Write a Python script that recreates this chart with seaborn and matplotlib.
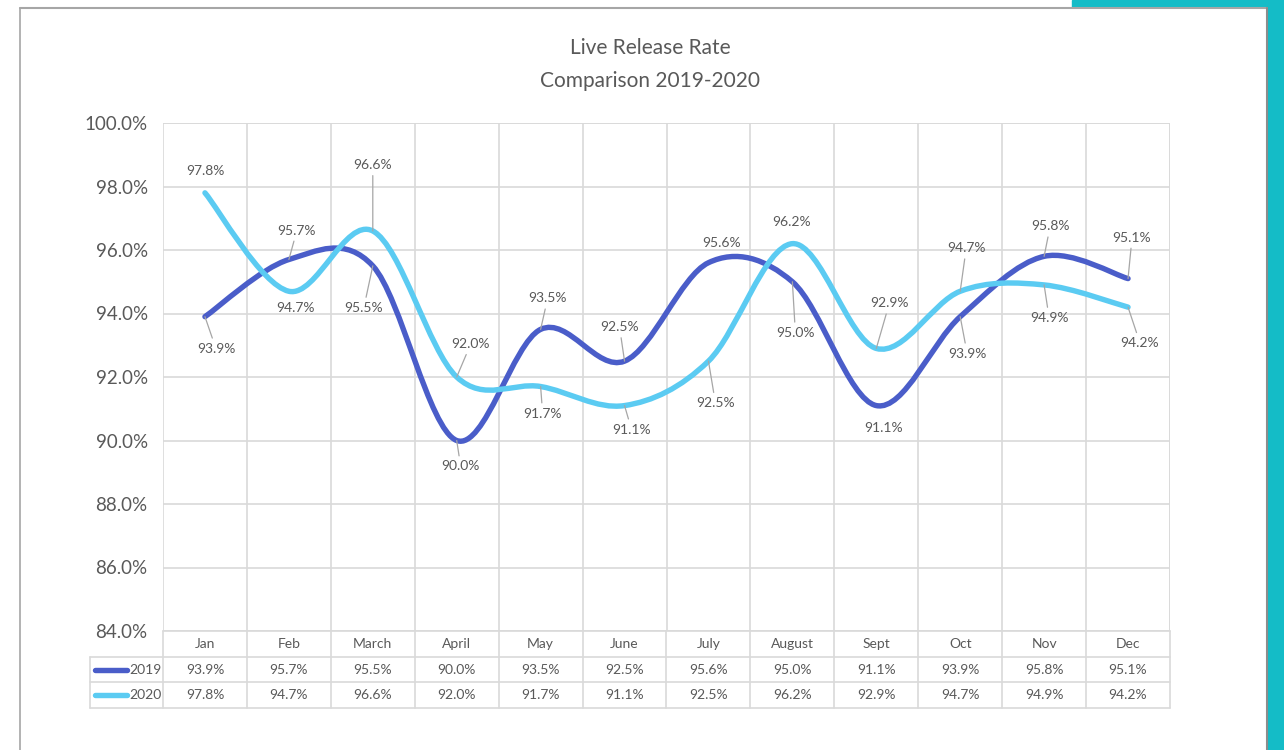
import numpy as np
import matplotlib.pyplot as plt
import seaborn as sns
from matplotlib.path import Path
from matplotlib.patches import PathPatch, Rectangle
from matplotlib.lines import Line2D

# data
months = ['Jan', 'Feb', 'March', 'April', 'May', 'June', 'July', 'August',
          'Sept', 'Oct', 'Nov', 'Dec']
rate_2019 = [93.9, 95.7, 95.5, 90.0, 93.5, 92.5, 95.6, 95.0, 91.1, 93.9, 95.8, 95.1]
rate_2020 = [97.8, 94.7, 96.6, 92.0, 91.7, 91.1, 92.5, 96.2, 92.9, 94.7, 94.9, 94.2]

# label offsets in pixels (dx, dy up positive)
off_2019 = [(11, -32), (8, 29), (-9, -42), (4, -26), (7, 31), (-5, 34),
            (13, 20), (3, -51), (7, -22), (7, -37), (6, 30), (4, 41)]
off_2020 = [(0, 22), (7, -17), (0, 66), (14, 33), (2, -27), (7, -24),
            (7, -42), (-1, 22), (13, 45), (6, 43), (5, -33), (12, -36)]

c19 = '#4A5DC9'
c20 = '#5BCBF2'
grey_txt = '#595959'
grid_c = '#D9D9D9'

sns.set_theme(style='white')
plt.rcParams['font.family'] = ['Lato', 'DejaVu Sans']

fig = plt.figure(figsize=(12.84, 7.5), dpi=100)
W, H = 1284, 750


def fbox(x0, y0, x1, y1):
    # pixel box (top-left origin) -> figure fraction
    return [x0 / W, 1 - y1 / H, (x1 - x0) / W, (y1 - y0) / H]


# frame decoration
fig.patches.append(Rectangle((1072 / W, 1 - 7 / H), (W - 1072) / W, 7 / H,
                             transform=fig.transFigure, color='#14BCC7', zorder=0))
fig.patches.append(Rectangle((1268 / W, 0), 16 / W, 1,
                             transform=fig.transFigure, color='#14BCC7', zorder=0))
fig.lines.append(Line2D([20 / W, 1267 / W], [1 - 8 / H, 1 - 8 / H],
                        transform=fig.transFigure, color='#A6A6A6', lw=1.5))
fig.lines.append(Line2D([20 / W, 20 / W], [0, 1 - 8 / H],
                        transform=fig.transFigure, color='#A6A6A6', lw=1.2))
fig.lines.append(Line2D([1267 / W, 1267 / W], [0, 1 - 8 / H],
                        transform=fig.transFigure, color='#8C8C8C', lw=1.5))

fig.text(650 / W, 1 - 48 / H, 'Live Release Rate', ha='center', va='center',
         fontsize=15, color=grey_txt)
fig.text(650 / W, 1 - 81 / H, 'Comparison 2019-2020', ha='center', va='center',
         fontsize=15, color=grey_txt)

ax = fig.add_axes(fbox(163, 123, 1170, 631))
x = np.arange(len(months))
ax.set_xlim(-0.5, 11.5)
ax.set_ylim(84, 100)
ax.set_yticks(np.arange(84, 100.1, 2))
ax.set_yticklabels([f'{v:.1f}%' for v in np.arange(84, 100.1, 2)],
                   fontsize=13.5, color=grey_txt)
ax.set_xticks([])
ax.tick_params(axis='y', length=0, pad=11)
ax.set_xticks(np.arange(-0.5, 12, 1), minor=True)
ax.grid(True, which='minor', axis='x', color=grid_c, lw=1.2)
ax.grid(True, which='major', axis='y', color=grid_c, lw=1.2)
for s in ax.spines.values():
    s.set_visible(False)
ax.axvline(11.5, color=grid_c, lw=1.2)
ax.axhline(100, color=grid_c, lw=1.2)


def smooth_path(xs, ys):
    pts = np.column_stack([xs, ys]).astype(float)
    n = len(pts)
    verts = [pts[0]]
    codes = [Path.MOVETO]
    for i in range(n - 1):
        p0 = pts[max(i - 1, 0)]
        p1 = pts[i]
        p2 = pts[i + 1]
        p3 = pts[min(i + 2, n - 1)]
        verts += [p1 + (p2 - p0) / 6, p2 - (p3 - p1) / 6, p2]
        codes += [Path.CURVE4] * 3
    return Path(verts, codes)


for vals, col in [(rate_2019, c19), (rate_2020, c20)]:
    ax.add_patch(PathPatch(smooth_path(x, vals), fill=False, edgecolor=col,
                           lw=3.9, capstyle='round', joinstyle='round', zorder=3))

for vals, offs in [(rate_2019, off_2019), (rate_2020, off_2020)]:
    for i, (v, (dx, dy)) in enumerate(zip(vals, offs)):
        if np.hypot(dx, dy) > 24:
            ap = dict(arrowstyle='-', color='#A6A6A6', lw=0.9, shrinkA=1, shrinkB=0)
        else:
            ap = None
        ax.annotate(f'{v:.1f}%', (i, v), xytext=(dx, dy), textcoords='offset pixels',
                    ha='center', va='center', fontsize=10, color=grey_txt,
                    arrowprops=ap, zorder=4)

# data table under the plot
tax = fig.add_axes(fbox(90, 631, 1170, 708))
tax.set_xlim(-0.5 - 73 / 83.92, 11.5)
tax.set_ylim(3, 0)
tax.axis('off')
left = -0.5 - 73 / 83.92
for r in [0, 1, 2, 3]:
    x0 = -0.5 if r == 0 else left
    tax.plot([x0, 11.5], [r, r], color=grid_c, lw=1.2, clip_on=False)
for b in np.arange(-0.5, 12, 1):
    tax.plot([b, b], [0, 3], color=grid_c, lw=1.2, clip_on=False)
tax.plot([left, left], [1, 3], color=grid_c, lw=1.2, clip_on=False)

for i, m in enumerate(months):
    tax.text(i, 0.5, m, ha='center', va='center', fontsize=10, color=grey_txt)
    tax.text(i, 1.5, f'{rate_2019[i]:.1f}%', ha='center', va='center',
             fontsize=10, color=grey_txt)
    tax.text(i, 2.5, f'{rate_2020[i]:.1f}%', ha='center', va='center',
             fontsize=10, color=grey_txt)

for r, (lab, col) in enumerate([('2019', c19), ('2020', c20)]):
    tax.plot([left + 0.06, left + 0.44], [r + 1.5, r + 1.5], color=col, lw=3.9,
             solid_capstyle='round')
    tax.text(left + 0.47, r + 1.5, lab, ha='left', va='center', fontsize=10,
             color=grey_txt)

fig.savefig('out.png', dpi=100)
